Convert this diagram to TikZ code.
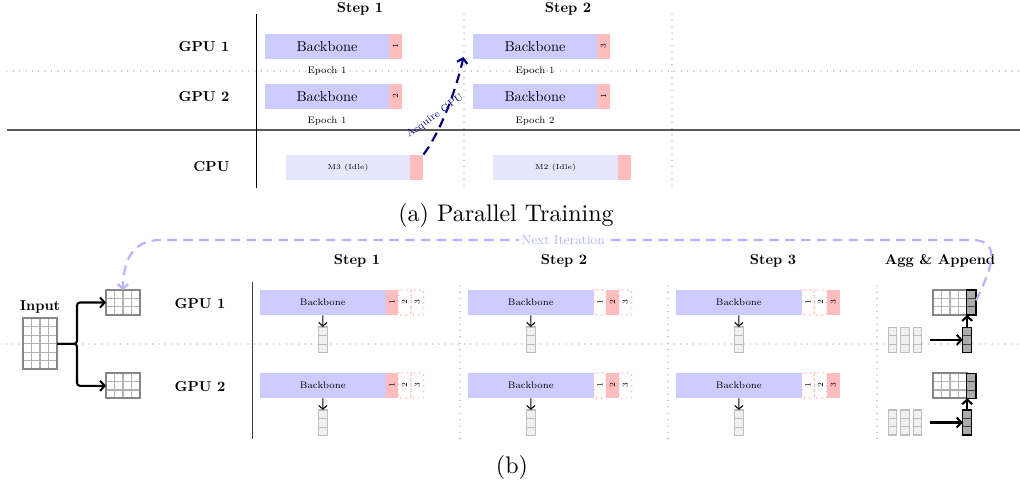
\documentclass[tikz,border=0pt]{standalone}
\usetikzlibrary{calc,arrows.meta}
\newdimen\pxu \pxu=0.41667pt
\definecolor{bbblue}{RGB}{204,204,255}
\definecolor{rred}{RGB}{255,189,189}
\definecolor{idle}{RGB}{230,230,255}
\definecolor{navyA}{RGB}{0,0,128}
\definecolor{nextc}{RGB}{179,179,255}
\newcommand\sct[1]{\scalebox{0.6}{#1}}
% grid: name, x, y (top-left), cols, rows, cell w, cell h, outer style, inner style
\newcommand\mkgrid[9]{%
  \node[#8, inner sep=0, outer sep=0, anchor=north west,
        minimum width=#4*#6*\pxu, minimum height=#5*#7*\pxu] (#1) at (#2,#3) {};
  \pgfmathtruncatemacro\gcA{#4-1}\pgfmathtruncatemacro\grA{#5-1}%
  \ifnum\gcA>0 \foreach \i in {1,...,\gcA}{\draw[#9] ({#2+\i*#6},#3) -- ({#2+\i*#6},{#3+#5*#7});}\fi
  \ifnum\grA>0 \foreach \j in {1,...,\grA}{\draw[#9] (#2,{#3+\j*#7}) -- ({#2+#4*#6},{#3+\j*#7});}\fi
  \draw[#8, fill=none] (#1.north west) rectangle (#1.south east);
}
\begin{document}
\begin{tikzpicture}[x=0.41667pt,y=-0.41667pt,
  lab/.style={inner sep=0, font=\normalsize\bfseries},
  numf/.style={font=\fontsize{5.5}{6}\selectfont},
  bbA/.style={fill=bbblue, inner sep=0, minimum width=124*\pxu, minimum height=25*\pxu},
  rdA/.style={fill=rred, inner sep=0, rotate=90, minimum width=25*\pxu, minimum height=12.5*\pxu, numf},
  idl/.style={fill=idle, inner sep=0, minimum width=124*\pxu, minimum height=25*\pxu, font=\tiny},
  rdC/.style={fill=rred, inner sep=0, minimum width=13*\pxu, minimum height=25*\pxu},
  ep/.style={font=\fontsize{6.6}{7}\selectfont, inner sep=0},
  bbB/.style={fill=bbblue, inner sep=0, minimum width=125.7*\pxu, minimum height=25*\pxu, font=\fontsize{6.6}{7}\selectfont},
  rdB/.style={fill=rred, inner sep=0, rotate=90, minimum width=25*\pxu, minimum height=12.6*\pxu, numf},
  dtB/.style={draw=rred, line width=0.8pt, dash pattern=on 0pt off 2.3pt, line cap=round, inner sep=0, rotate=90, minimum width=25*\pxu, minimum height=12.6*\pxu, numf},
  sepdot/.style={gray!85, line width=0.55pt, dash pattern=on 0pt off 2.65pt, line cap=round},
  grdo/.style={draw=gray!95, line width=0.8pt, fill=white},
  grdi/.style={gray!60, line width=0.45pt},
  colo/.style={draw=gray!50, line width=0.5pt, fill=gray!12},
  coli/.style={gray!50, line width=0.35pt},
  dko/.style={draw=black, line width=0.6pt, fill=gray!65},
  dki/.style={black!75, line width=0.35pt},
  blk/.style={line width=0.85pt, -{Straight Barb[length=1.9pt,width=4.2pt]}},
  thinarr/.style={line width=0.45pt, -{Straight Barb[length=1.6pt,width=3.4pt]}},
]
\useasboundingbox (0,0) rectangle (1020,484);

%%%%%%%%%%%%%%%% (a) %%%%%%%%%%%%%%%%
\draw[sepdot] (7,71) -- (1020,71);
\draw[sepdot] (464,14) -- (464,188);
\draw[sepdot] (672,14) -- (672,188);
\draw[black!65, line width=0.8pt] (7,130) -- (1020,130);
\draw[black, line width=0.5pt] (256.7,14) -- (256.7,188);

\node[lab] (s1a) at (360,9) {\sct{Step 1}};
\node[lab] (s2a) at (568,9) {\sct{Step 2}};
\node[lab, anchor=east] (g1a) at (230,47) {\sct{GPU 1}};
\node[lab, anchor=east] (g2a) at (230,97) {\sct{GPU 2}};
\node[lab, anchor=east] (cpa) at (230,167) {\sct{CPU}};

\node[bbA] (a11) at (327,46.5) {\sct{Backbone}};
\node[rdA] (r11) at (395.4,46.5) {\sct{1}};
\node[bbA] (a21) at (327,96.5) {\sct{Backbone}};
\node[rdA] (r21) at (395.4,96.5) {\sct{2}};
\node[bbA] (a12) at (535,46.5) {\sct{Backbone}};
\node[rdA] (r12) at (603.4,46.5) {\sct{3}};
\node[bbA] (a22) at (535,96.5) {\sct{Backbone}};
\node[rdA] (r22) at (603.4,96.5) {\sct{1}};

\node[ep] (e11) at (327,71) {\sct{Epoch 1}};
\node[ep] (e21) at (327,121) {\sct{Epoch 1}};
\node[ep] (e12) at (535,71) {\sct{Epoch 1}};
\node[ep] (e22) at (535,121) {\sct{Epoch 2}};

\node[idl] (c1) at (348,167.5) {\sct{M3 (Idle)}};
\node[rdC] (cr1) at (416.5,167.5) {};
\node[idl, minimum width=125*\pxu] (c2) at (555.5,167.5) {\sct{M2 (Idle)}};
\node[rdC] (cr2) at (624.5,167.5) {};

\coordinate (acqEnd) at (463.5,57);
\draw[navyA, line width=0.9pt, dash pattern=on 4pt off 2.6pt,
      -{Straight Barb[length=1.9pt,width=4.4pt]}]
  (cr1.north east) .. controls (441,131) and (456,90) .. (acqEnd);
\node[navyA, rotate=36, inner sep=0, font=\fontsize{7}{8}\selectfont] (acqt) at (435,116) {\sct{Acquire GPU}};

\node (capa) at (506,215) {(a) Parallel Training};

%%%%%%%%%%%%%%%% (b) %%%%%%%%%%%%%%%%
\draw[sepdot] (0,344) -- (1020,344);
\foreach \xx in {460,668,877}{\draw[sepdot] (\xx,286) -- (\xx,440);}
\draw[black!75, line width=0.6pt] (252.3,282) -- (252.3,439);

\node[lab] (s1b) at (357,261) {\sct{Step 1}};
\node[lab] (s2b) at (564,261) {\sct{Step 2}};
\node[lab] (s3b) at (773,261) {\sct{Step 3}};
\node[lab] (agb) at (940,261) {\sct{Agg \& Append}};
\node[lab, anchor=east] (g1b) at (226,303.5) {\sct{GPU 1}};
\node[lab, anchor=east] (g2b) at (226,386.5) {\sct{GPU 2}};
\node[lab] (inl) at (40,306.5) {\sct{Input}};

% input grids
\mkgrid{inp}{22.7}{318.3}{4}{6}{8.65}{8.5}{grdo}{grdi}
\mkgrid{sg1}{106}{290}{4}{3}{8.5}{8.33}{grdo}{grdi}
\mkgrid{sg2}{106}{373.3}{4}{3}{8.5}{8.33}{grdo}{grdi}
\draw[blk, rounded corners=1.2pt] (inp.east) -- (77,343.8) |- (sg1.west);
\draw[blk, rounded corners=1.2pt] (inp.east) -- (77,343.8) |- (sg2.west);

% steps
\foreach \k in {0,1,2}{
  \pgfmathtruncatemacro\kk{\k+1}
  \foreach \r/\yy/\ct in {1/302.5/327, 2/385.5/410}{
    \pgfmathsetmacro\bx{322.85+208*\k}
    \node[bbB] (b\r\k) at (\bx,\yy) {\sct{Backbone}};
    \foreach \c in {1,2,3}{
      \pgfmathsetmacro\cx{322.85+208*\k+62.85+6.3+12.6*(\c-1)}
      \ifnum\c=\kk
        \node[rdB] (n\r\k\c) at (\cx,\yy) {\sct{\c}};
      \else
        \node[dtB] (n\r\k\c) at (\cx,\yy) {\sct{\c}};
      \fi
    }
    \mkgrid{o\r\k}{\bx-4.65}{\ct}{1}{3}{9.3}{8.6}{colo}{coli}
    \draw[thinarr] (b\r\k.south) -- (o\r\k.north);
  }
}

% aggregation
\foreach \r/\yg/\yc in {1/290/327.3, 2/373.3/410}{
  \mkgrid{l\r a}{888.3}{\yc}{1}{3}{8.4}{8.33}{colo}{coli}
  \mkgrid{l\r b}{900.7}{\yc}{1}{3}{8.4}{8.33}{colo}{coli}
  \mkgrid{l\r c}{913.1}{\yc}{1}{3}{8.4}{8.33}{colo}{coli}
  \mkgrid{d\r}{962.7}{\yc}{1}{3}{9}{8.33}{dko}{dki}
  \mkgrid{ag\r}{933.3}{\yg}{4}{3}{8.35}{8.33}{grdo}{grdi}
  \mkgrid{ad\r}{966.7}{\yg}{1}{3}{9.3}{8.33}{dko}{dki}
  \draw[blk, shorten <=8*\pxu] (l\r c.east) -- (d\r.west);
  \draw[blk] (d\r.north) -- (d\r.north |- ag\r.south);
}

% next iteration loop
\coordinate (nxs) at (976,300.5);
\draw[nextc, line width=0.9pt, dash pattern=on 4pt off 2.6pt,
      -{Straight Barb[length=1.9pt,width=4.4pt]}]
  (nxs) .. controls (990,272) and (1004,240) .. (972,240) -- (160,240)
  .. controls (132,240) and (123,262) .. (sg1.north -| 123,0);
\node[fill=white, inner sep=1pt, text=nextc, font=\small] (nxl) at (563,240) {\sct{Next Iteration}};

\node (capb) at (512,467) {(b)};
\end{tikzpicture}
\end{document}
